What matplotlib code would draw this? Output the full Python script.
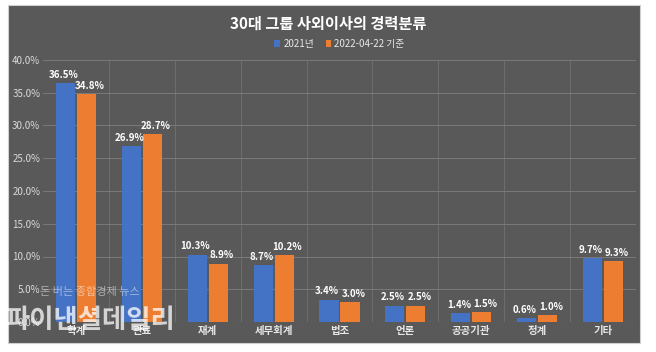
import numpy as np
import matplotlib.pyplot as plt
from matplotlib.patches import Rectangle

plt.rcParams['font.family'] = ['Noto Sans CJK KR', 'DejaVu Sans']

categories = ['학계', '관료', '재계', '세무회계', '법조', '언론', '공공기관', '정계', '기타']
y2021 = [36.5, 26.9, 10.3, 8.7, 3.4, 2.5, 1.4, 0.6, 9.7]
y2022 = [34.8, 28.7, 8.9, 10.2, 3.0, 2.5, 1.5, 1.0, 9.3]
series_names = ['2021년', '2022-04-22 기준']
yticks = [0, 5, 10, 15, 20, 25, 30, 35, 40]

bg = '#595959'
blue = '#4472C4'
orange = '#ED7D31'

fig = plt.figure(figsize=(6.56, 3.52), dpi=100)
fig.patch.set_facecolor('white')
# dark chart panel
fig.add_artist(Rectangle((8 / 656, 1 - 343 / 352), 632 / 656, 338 / 352,
                         transform=fig.transFigure, facecolor=bg,
                         edgecolor='#d0d0d0', lw=0.8, zorder=0))

ax = fig.add_axes([43 / 656, 1 - 322 / 352, 593 / 656, 262 / 352])
ax.set_facecolor(bg)

x = np.arange(len(categories))
w = 0.29
b1 = ax.bar(x - w / 2 - 0.015, y2021, w, color=blue, label=series_names[0], zorder=3)
b2 = ax.bar(x + w / 2 + 0.015, y2022, w, color=orange, label=series_names[1], zorder=3)

# labels sit a little apart so neighbours don't touch
for bars, vals, dx in ((b1, y2021, -0.03), (b2, y2022, 0.05)):
    for r, v in zip(bars, vals):
        ax.text(r.get_x() + r.get_width() / 2 + dx, v + 0.5, f'{v:.1f}%',
                ha='center', va='bottom', color='white', fontsize=7,
                fontweight='bold', zorder=4)

ax.set_xlim(-0.5, len(categories) - 0.5)
ax.set_ylim(0, 40)
ax.set_yticks(yticks)
ax.set_yticklabels([f'{t:.1f}%' for t in yticks], color='#d9d9d9', fontsize=7)
ax.set_xticks(x)
ax.set_xticklabels(categories, color='#e8e8e8', fontsize=7.5, fontweight='bold')
ax.tick_params(length=0, pad=3)
ax.tick_params(axis='y', pad=2)

ax.grid(axis='y', color='#7a7a7a', lw=0.7, zorder=0)
for b in np.arange(0.5, len(categories) - 0.5, 1):
    ax.axvline(b, color='#6e6e6e', lw=0.7, zorder=0)
for s in ax.spines.values():
    s.set_visible(False)
ax.axhline(0, color='#8a8a8a', lw=0.8, zorder=2)

fig.text(0.5, 1 - 24 / 352, '30대 그룹 사외이사의 경력분류', ha='center', va='center',
         color='white', fontsize=11, fontweight='bold')
ax.legend(loc='center', bbox_to_anchor=(0.5, (1 - 44 / 352 - (1 - 322 / 352)) / (262 / 352)),
          ncol=2, frameon=False, fontsize=7, labelcolor='#e8e8e8',
          handlelength=0.6, handleheight=0.6, handletextpad=0.3, columnspacing=1.2)

# watermark
fig.text(40 / 656, 1 - 292 / 352, '돈 버는 종합경제 뉴스', color='white', alpha=0.5,
         fontsize=8, va='center')
fig.text(5 / 656, 1 - 321 / 352, '파이낸셜데일리', color='white', alpha=0.75,
         fontsize=19, fontweight='bold', va='center')

fig.savefig('out.png', dpi=100, facecolor='white')
